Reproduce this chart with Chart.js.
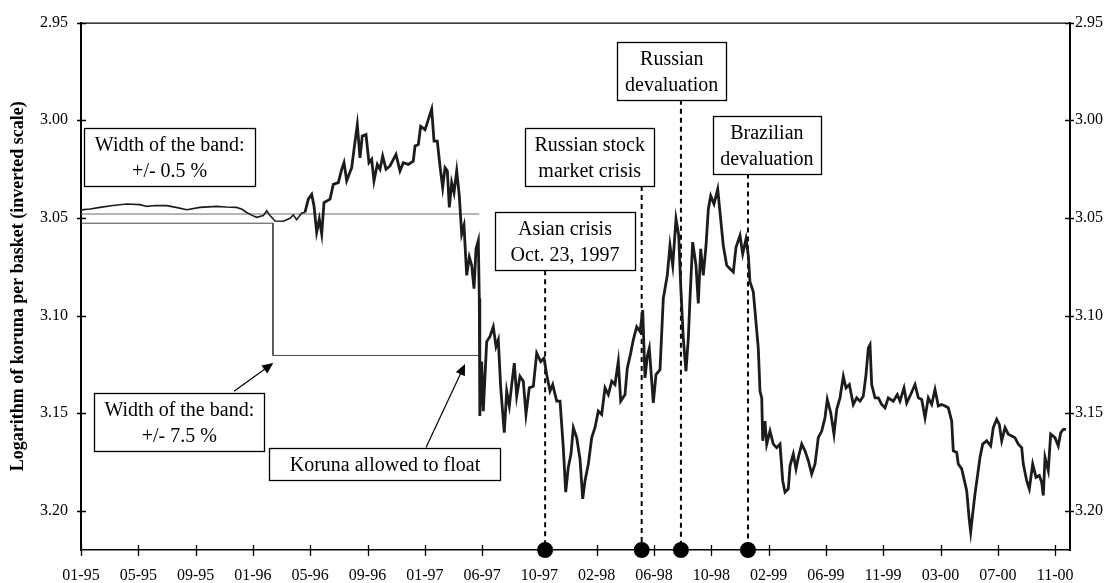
<!DOCTYPE html>
<html>
<head>
<meta charset="utf-8">
<script src="https://cdn.jsdelivr.net/npm/chart.js@4.4.0/dist/chart.umd.min.js"></script>
<style>
  body { margin: 0; background: #fff; }
  #wrap { width: 1112px; height: 583px; }
</style>
</head>
<body>
<div id="wrap"><canvas id="myChart"></canvas></div>
<script>
var xTickLabels = ["01-95","05-95","09-95","01-96","05-96","09-96","01-97","06-97","10-97",
                   "02-98","06-98","10-98","02-99","06-99","11-99","03-00","07-00","11-00"];
var yTickValues = [2.95, 3.00, 3.05, 3.10, 3.15, 3.20];

// position along the time axis, in tick steps (0 = 01-95)
var pos = [0.000,0.157,0.332,0.558,0.798,1.030,1.147,1.291,1.496,1.658,1.845,2.077,2.368,2.531,2.717,2.810,
  2.892,2.984,3.066,3.182,3.241,3.298,3.386,3.531,3.647,3.705,3.764,3.852,3.909,3.967,4.026,4.066,
  4.113,4.159,4.201,4.241,4.346,4.403,4.490,4.550,4.590,4.637,4.724,4.764,4.822,4.869,4.909,4.974,
  5.026,5.073,5.113,5.171,5.218,5.265,5.323,5.393,5.497,5.567,5.625,5.712,5.799,5.829,5.887,5.928,
  6.004,6.061,6.120,6.161,6.218,6.265,6.312,6.353,6.393,6.428,6.469,6.510,6.557,6.602,6.644,6.684,
  6.731,6.777,6.819,6.859,6.894,6.934,6.951,6.960,6.993,7.021,7.080,7.138,7.195,7.243,7.283,7.325,
  7.387,7.429,7.475,7.517,7.562,7.604,7.661,7.719,7.766,7.824,7.894,7.953,8.023,8.080,8.127,8.185,
  8.232,8.302,8.360,8.417,8.459,8.504,8.551,8.592,8.651,8.709,8.756,8.796,8.854,8.913,8.970,9.028,
  9.087,9.145,9.203,9.262,9.319,9.377,9.419,9.494,9.534,9.593,9.639,9.698,9.756,9.803,9.843,9.883,
  9.918,9.988,10.035,10.105,10.162,10.232,10.279,10.327,10.384,10.431,10.466,10.511,10.558,10.599,10.628,10.675,
  10.733,10.773,10.815,10.860,10.908,10.948,10.990,11.047,11.112,11.152,11.209,11.269,11.326,11.384,11.431,11.501,
  11.548,11.606,11.646,11.675,11.733,11.820,11.850,11.880,11.897,11.937,11.967,12.024,12.082,12.141,12.199,12.246,
  12.286,12.344,12.374,12.431,12.478,12.519,12.578,12.635,12.693,12.752,12.810,12.867,12.927,12.984,13.024,13.084,
  13.141,13.189,13.246,13.304,13.351,13.409,13.478,13.537,13.595,13.653,13.700,13.740,13.770,13.799,13.857,13.915,
  13.974,14.032,14.089,14.177,14.246,14.293,14.363,14.410,14.480,14.555,14.613,14.672,14.730,14.787,14.846,14.904,
  14.962,15.021,15.079,15.136,15.195,15.223,15.283,15.310,15.370,15.410,15.457,15.503,15.527,15.562,15.602,15.642,
  15.689,15.736,15.806,15.876,15.921,15.981,16.026,16.068,16.126,16.183,16.243,16.300,16.358,16.417,16.445,16.504,
  16.550,16.609,16.667,16.724,16.766,16.794,16.824,16.881,16.923,16.998,17.056,17.098,17.143,17.190];

var logRate = [3.0459,3.0454,3.0446,3.0436,3.0429,3.0432,3.0441,3.0436,3.0437,3.0446,3.0458,3.0446,3.0441,3.0444,3.0446,3.0456,
  3.0472,3.0487,3.0497,3.0488,3.0463,3.0488,3.0516,3.0517,3.0502,3.0485,3.0509,3.0475,3.0472,3.0404,3.0380,3.0437,
  3.0573,3.0506,3.0582,3.0421,3.0404,3.0328,3.0319,3.0251,3.0217,3.0310,3.0243,3.0150,3.0022,3.0192,3.0081,3.0073,
  3.0217,3.0200,3.0310,3.0226,3.0251,3.0183,3.0251,3.0234,3.0175,3.0259,3.0217,3.0226,3.0209,3.0132,3.0124,3.0031,
  3.0048,2.9997,2.9943,3.0107,3.0107,3.0234,3.0344,3.0243,3.0259,3.0446,3.0319,3.0370,3.0259,3.0387,3.0582,3.0539,
  3.0794,3.0700,3.0743,3.0862,3.0658,3.0616,3.0913,3.1514,3.1235,3.1489,3.1133,3.1107,3.1057,3.1158,3.1124,3.1370,
  3.1599,3.1387,3.1463,3.1353,3.1243,3.1412,3.1311,3.1336,3.1506,3.1370,3.1362,3.1192,3.1235,3.1218,3.1302,3.1387,
  3.1353,3.1438,3.1438,3.1676,3.1904,3.1777,3.1709,3.1574,3.1625,3.1735,3.1938,3.1845,3.1760,3.1625,3.1574,3.1489,
  3.1506,3.1370,3.1404,3.1336,3.1353,3.1235,3.1438,3.1404,3.1269,3.1192,3.1124,3.1057,3.1082,3.0972,3.1319,3.1209,
  3.1167,3.1447,3.1302,3.1277,3.0913,3.0794,3.0641,3.0743,3.0506,3.0590,3.0844,3.1116,3.1285,3.1116,3.0913,3.0624,
  3.0743,3.0938,3.0658,3.0794,3.0641,3.0455,3.0387,3.0429,3.0353,3.0472,3.0641,3.0743,3.0760,3.0777,3.0650,3.0590,
  3.0684,3.0607,3.0692,3.0828,3.0878,3.1167,3.1387,3.1421,3.1641,3.1540,3.1658,3.1591,3.1658,3.1676,3.1658,3.1845,
  3.1904,3.1887,3.1769,3.1709,3.1785,3.1726,3.1658,3.1692,3.1743,3.1811,3.1760,3.1625,3.1591,3.1523,3.1429,3.1497,
  3.1607,3.1480,3.1421,3.1311,3.1370,3.1353,3.1455,3.1421,3.1438,3.1412,3.1302,3.1167,3.1150,3.1353,3.1421,3.1421,
  3.1455,3.1472,3.1421,3.1438,3.1404,3.1438,3.1370,3.1447,3.1404,3.1353,3.1421,3.1429,3.1523,3.1421,3.1455,3.1378,
  3.1463,3.1455,3.1463,3.1472,3.1540,3.1692,3.1701,3.1760,3.1785,3.1836,3.1896,3.2048,3.2108,3.2014,3.1913,3.1828,
  3.1726,3.1658,3.1641,3.1667,3.1574,3.1531,3.1557,3.1641,3.1574,3.1607,3.1616,3.1625,3.1658,3.1676,3.1760,3.1845,
  3.1887,3.1760,3.1828,3.1819,3.1853,3.1921,3.1726,3.1794,3.1607,3.1625,3.1667,3.1599,3.1582,3.1582];

// fluctuation band lines
var bandCentrePos = [0, 6.95];
var bandCentreVal = [3.048, 3.048];
var bandStepPos = [0, 3.35, 3.35, 6.96];
var bandStepVal = [3.0527, 3.0527, 3.1204, 3.1204];

// events (dashed marker lines)
var eventPos = [8.1, 9.785, 10.47, 11.64];
var eventTop = [3.0768, 3.0336, 2.9895, 3.0273];

var FONT = "'Liberation Serif', 'Times New Roman', serif";

// text boxes, placed in data units
var notes = [
  { lines: ["Width of the band:", "+/- 0.5 %"], x: 1.548, y: 3.0188, w: 171 },
  { lines: ["Width of the band:", "+/- 7.5 %"], x: 1.716, y: 3.1544, w: 170 },
  { lines: ["Koruna allowed to float"], x: 5.305, y: 3.1762, w: 231 },
  { lines: ["Asian crisis", "Oct. 23, 1997"], x: 8.447, y: 3.062, w: 140 },
  { lines: ["Russian stock", "market crisis"], x: 8.878, y: 3.0188, w: 129 },
  { lines: ["Russian", "devaluation"], x: 10.309, y: 2.9747, w: 109 },
  { lines: ["Brazilian", "devaluation"], x: 11.97, y: 3.0125, w: 108 }
];
var arrows = [
  { from: [2.670, 3.1387], to: [3.356, 3.1243] },
  { from: [6.021, 3.1675], to: [6.702, 3.1248] }
];

function toPts(xs, ys) {
  var out = [];
  for (var i = 0; i < xs.length; i++) out.push({ x: xs[i], y: ys[i] });
  return out;
}

var datasets = [{
  data: toPts(pos, logRate),
  borderColor: "#1c1c1c",
  borderWidth: 2.8,
  pointRadius: 0,
  segment: {
    borderWidth: function (c) { return c.p0.parsed.x < 3.9 ? 1.6 : 2.8; }
  }
}, {
  data: toPts(bandCentrePos, bandCentreVal),
  borderColor: "#6a6a6a",
  borderWidth: 1,
  pointRadius: 0
}, {
  data: toPts(bandStepPos, bandStepVal),
  borderColor: "#444",
  borderWidth: 1,
  pointRadius: 0
}];

for (var i = 0; i < eventPos.length; i++) {
  datasets.push({
    data: [{ x: eventPos[i], y: eventTop[i] }, { x: eventPos[i], y: 3.22 }],
    borderColor: "#000",
    borderWidth: 2,
    borderDash: [5, 4],
    pointRadius: [0, 7],
    pointBackgroundColor: "#000",
    pointBorderColor: "#000",
    clip: false
  });
}

var extras = {
  id: "extras",
  afterDatasetsDraw: function (chart) {
    var ctx = chart.ctx, sx = chart.scales.x, sy = chart.scales.y;
    ctx.save();
    // arrows
    arrows.forEach(function (a) {
      var x0 = sx.getPixelForValue(a.from[0]), y0 = sy.getPixelForValue(a.from[1]);
      var x1 = sx.getPixelForValue(a.to[0]), y1 = sy.getPixelForValue(a.to[1]);
      var ang = Math.atan2(y1 - y0, x1 - x0);
      ctx.strokeStyle = "#000"; ctx.lineWidth = 1.2;
      ctx.beginPath(); ctx.moveTo(x0, y0);
      ctx.lineTo(x1 - 9 * Math.cos(ang), y1 - 9 * Math.sin(ang)); ctx.stroke();
      ctx.fillStyle = "#000";
      ctx.beginPath();
      ctx.moveTo(x1, y1);
      ctx.lineTo(x1 - 11 * Math.cos(ang) + 5 * Math.sin(ang), y1 - 11 * Math.sin(ang) - 5 * Math.cos(ang));
      ctx.lineTo(x1 - 11 * Math.cos(ang) - 5 * Math.sin(ang), y1 - 11 * Math.sin(ang) + 5 * Math.cos(ang));
      ctx.closePath(); ctx.fill();
    });
    // boxes
    ctx.font = "20px " + FONT;
    notes.forEach(function (n) {
      var cx = sx.getPixelForValue(n.x), cy = sy.getPixelForValue(n.y);
      var lh = 26, bh = n.lines.length * lh + 6;
      var x0 = Math.round(cx - n.w / 2) + 0.5, y0 = Math.round(cy - bh / 2) + 0.5;
      ctx.fillStyle = "#fff"; ctx.fillRect(x0, y0, n.w, bh);
      ctx.strokeStyle = "#000"; ctx.lineWidth = 1.3; ctx.strokeRect(x0, y0, n.w, bh);
      ctx.fillStyle = "#000"; ctx.textAlign = "center"; ctx.textBaseline = "middle";
      for (var k = 0; k < n.lines.length; k++) {
        ctx.fillText(n.lines[k], cx, y0 + 4 + lh * (k + 0.5));
      }
    });
    ctx.restore();
  },
  afterDraw: function (chart) {
    var ctx = chart.ctx, a = chart.chartArea, sx = chart.scales.x, sy = chart.scales.y;
    ctx.save();
    ctx.strokeStyle = "#000"; ctx.lineWidth = 1.3;
    ctx.beginPath();
    sx.ticks.forEach(function (t) {
      var px = Math.round(sx.getPixelForValue(t.value)) + 0.5;
      ctx.moveTo(px, a.bottom - 5); ctx.lineTo(px, a.bottom + 6);
    });
    sy.ticks.forEach(function (t) {
      var py = Math.round(sy.getPixelForValue(t.value)) + 0.5;
      ctx.moveTo(a.left - 4, py); ctx.lineTo(a.left + 5, py);
      ctx.moveTo(a.right - 5, py); ctx.lineTo(a.right + 4, py);
    });
    ctx.moveTo(a.left, a.top + 0.5); ctx.lineTo(a.right, a.top + 0.5);
    ctx.stroke();
    ctx.restore();
  }
};

Chart.defaults.font.family = FONT;
Chart.defaults.font.size = 16;
Chart.defaults.color = "#000";

new Chart("myChart", {
  type: "line",
  data: { datasets: datasets },
  plugins: [extras],
  options: {
    responsive: true,
    maintainAspectRatio: false,
    animation: false,
    layout: { padding: { top: 19, left: 0, right: 0, bottom: 0 } },
    plugins: { legend: { display: false }, tooltip: { enabled: false } },
    elements: { line: { tension: 0 } },
    scales: {
      x: {
        type: "linear", min: 0, max: 17.26,
        afterBuildTicks: function (s) { s.ticks = xTickLabels.map(function (l, i) { return { value: i }; }); },
        afterFit: function (s) { s.height = 33; },
        ticks: { autoSkip: false, maxRotation: 0, padding: 16,
          callback: function (v) { return xTickLabels[v]; } },
        grid: { display: false, drawTicks: false },
        border: { display: true, color: "#000", width: 1.5 }
      },
      y: {
        position: "left", reverse: true, min: 2.95, max: 3.22,
        afterBuildTicks: function (s) { s.ticks = yTickValues.map(function (v) { return { value: v }; }); },
        afterFit: function (s) { s.width = 81; },
        ticks: { padding: 13, callback: function (v) { return v.toFixed(2); } },
        grid: { display: false, drawTicks: false },
        border: { display: true, color: "#000", width: 2 },
        title: { display: true, text: "Logarithm of koruna per basket (inverted scale)",
          font: { size: 18, weight: "bold" }, padding: { top: 8, bottom: 0 } }
      },
      y2: {
        position: "right", reverse: true, min: 2.95, max: 3.22,
        afterBuildTicks: function (s) { s.ticks = yTickValues.map(function (v) { return { value: v }; }); },
        afterFit: function (s) { s.width = 42; },
        ticks: { padding: 5, callback: function (v) { return v.toFixed(2); } },
        grid: { display: false, drawTicks: false },
        border: { display: true, color: "#000", width: 2 }
      }
    }
  }
});
</script>
</body>
</html>
